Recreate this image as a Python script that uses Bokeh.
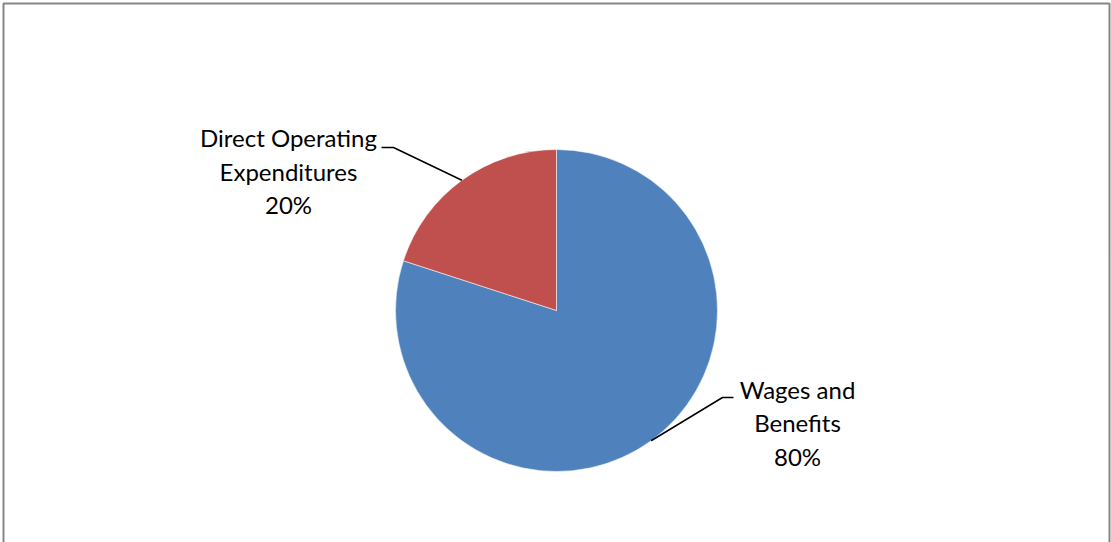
import math
from bokeh.plotting import figure
from bokeh.models import Range1d, BoxAnnotation
from bokeh.core.properties import value
from bokeh.embed import file_html
from bokeh.resources import INLINE

categories = ["Wages and Benefits", "Direct Operating Expenditures"]
shares = [80, 20]
colors = ["#4F81BD", "#C0504D"]
label_lines = [["Wages and", "Benefits", "80%"], ["Direct Operating", "Expenditures", "20%"]]

W, H = 1111, 542
p = figure(width=W, height=H, output_backend="svg", toolbar_location=None,
           x_range=Range1d(0, W), y_range=Range1d(0, H), min_border=0)
p.axis.visible = False
p.grid.visible = False
p.outline_line_color = None
p.background_fill_color = "white"
p.border_fill_color = "white"

# chart border
p.add_layout(BoxAnnotation(left=3, right=1109, top=H - 3, bottom=-20,
                           fill_color=None, line_color="#868686", line_width=2,
                           line_alpha=1.0))

cx, cy, r = 556, H - 310, 161
total = sum(shares)
cum = 0.0
starts, ends, mids = [], [], []
for s in shares:
    a0 = math.radians(90 - cum / total * 360)
    cum += s
    a1 = math.radians(90 - cum / total * 360)
    starts.append(a0)
    ends.append(a1)
    mids.append((a0 + a1) / 2)

p.wedge(x=[cx] * len(shares), y=[cy] * len(shares), radius=r,
        start_angle=starts, end_angle=ends, direction="clock",
        fill_color=colors, line_color="white", line_width=0.8, line_alpha=0.7)

# leader lines and labels
label_pos = [(797, [389, 422, 456]), (288, [137, 171, 204])]
elbows = [((722, 397), (733, 397)), ((393, 147), (381, 147))]
for i in range(len(shares)):
    sx = cx + r * math.cos(mids[i])
    sy = cy + r * math.sin(mids[i])
    (ex, ey), (tx, ty) = elbows[i]
    p.line([sx, ex, tx], [sy, H - ey, H - ty], line_color="black", line_width=1.5)
    lx, lys = label_pos[i]
    p.text(x=[lx] * 3, y=[H - yy for yy in lys], text=label_lines[i],
           text_align="center", text_baseline="middle",
           text_font=value("Lato"), text_font_size="24px", text_color="black")

open("out.html", "w").write(file_html(p, INLINE))
